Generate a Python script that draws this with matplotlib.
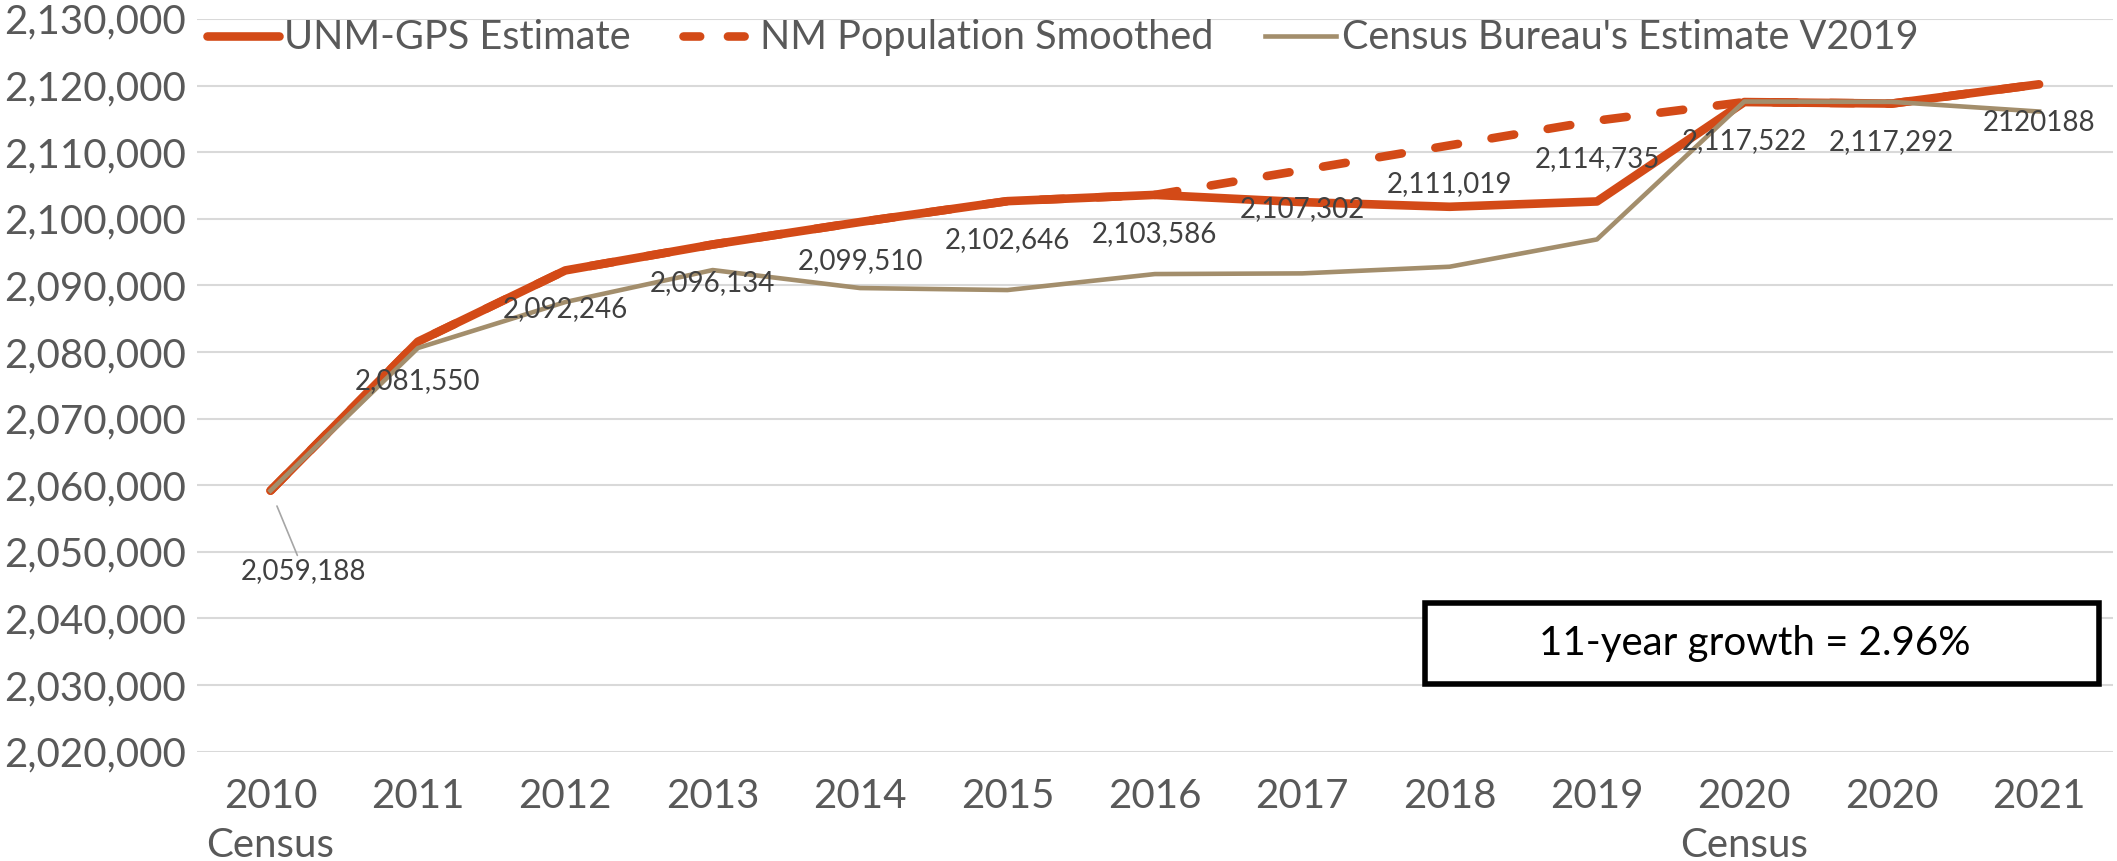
import matplotlib
matplotlib.use('Agg')
import matplotlib.pyplot as plt
from matplotlib.patches import Rectangle
from matplotlib.lines import Line2D
from matplotlib.ticker import FuncFormatter, MultipleLocator

plt.rcParams['font.family'] = ['Lato', 'DejaVu Sans']
plt.rcParams['lines.scale_dashes'] = False  # dash lengths in points

# === Data ===
years = ['2010\nCensus', '2011', '2012', '2013', '2014', '2015', '2016',
         '2017', '2018', '2019', '2020\nCensus', '2020', '2021']

unm_gps = [2059188, 2081550, 2092246, 2096134, 2099510, 2102646, 2103586,
           2102500, 2101800, 2102600, 2117522, 2117292, 2120188]

smoothed = [2059188, 2081550, 2092246, 2096134, 2099510, 2102646, 2103586,
            2107302, 2111019, 2114735, 2117522, 2117292, 2120188]

census_v2019 = [2059188, 2080600, 2087500, 2092300, 2089600, 2089300, 2091700,
                2091800, 2092800, 2096900, 2117600, 2117550, 2116100]

growth_note = '11-year growth = 2.96%'

# colours
c_unm = '#D34A17'
c_tan = '#A38E6C'
c_grid = '#D9D9D9'
c_text = '#595959'
c_label = '#404040'

fig = plt.figure(figsize=(21.17, 8.61), dpi=100)
ax = fig.add_axes([0.093, 0.127, 0.905, 0.851])

x = list(range(len(years)))

# dashed smoothed series sits under the solid one, so it only shows where they differ
ax.plot(x, smoothed, color=c_unm, lw=6.2, dashes=(16.5, 24.5), dash_capstyle='round',
        zorder=3, label='NM Population Smoothed')
ax.plot(x, unm_gps, color=c_unm, lw=6.2, solid_capstyle='round',
        solid_joinstyle='round', zorder=4, label='UNM-GPS Estimate')
ax.plot(x, census_v2019, color=c_tan, lw=3.3, solid_joinstyle='round',
        zorder=5, label="Census Bureau's Estimate V2019")

# data labels (below the points)
labels = [f'{v:,.0f}' for v in smoothed[:-1]] + [str(smoothed[-1])]
for i, (v, txt) in enumerate(zip(smoothed, labels)):
    if i == 0:
        ax.annotate(txt, xy=(i, v), xytext=(24, -58), textcoords='offset points',
                    ha='center', va='center', fontsize=20, color=c_label, zorder=7,
                    arrowprops=dict(arrowstyle='-', color='#A6A6A6', lw=1.2,
                                    shrinkA=0, shrinkB=12))
    else:
        ax.annotate(txt, xy=(i, v), xytext=(0, -28), textcoords='offset points',
                    ha='center', va='center', fontsize=20, color=c_label, zorder=7)

# axes styling
ax.set_xlim(-0.5, len(years) - 0.5)
ax.set_ylim(2020000, 2130000)
ax.yaxis.set_major_locator(MultipleLocator(10000))
ax.yaxis.set_major_formatter(FuncFormatter(lambda v, p: f'{v:,.0f}'))
ax.set_xticks(x)
ax.set_xticklabels(years, linespacing=1.4)
ax.grid(axis='y', color=c_grid, lw=1.5, zorder=0)
ax.set_axisbelow(True)
for s in ax.spines.values():
    s.set_visible(False)
ax.tick_params(axis='both', length=0, labelsize=29, labelcolor=c_text)
ax.tick_params(axis='y', pad=8)
ax.tick_params(axis='x', pad=19)

# legend
handles = [Line2D([], [], color=c_unm, lw=6.2, solid_capstyle='round'),
           Line2D([], [], color=c_unm, lw=6.2, dashes=(12, 20), dash_capstyle='round'),
           Line2D([], [], color=c_tan, lw=3.3)]
names = ['UNM-GPS Estimate', 'NM Population Smoothed', "Census Bureau's Estimate V2019"]
leg = ax.legend(handles, names, loc='center', bbox_to_anchor=(0.452, 0.974), ncol=3,
                frameon=False, fontsize=28.5, handlelength=1.8, handletextpad=0.15,
                columnspacing=1.3, labelcolor=c_text)
leg.set_zorder(8)

# growth box
ax.add_patch(Rectangle((0.641, 0.093), 0.352, 0.11, transform=ax.transAxes,
                       facecolor='white', edgecolor='black', lw=4, zorder=8))
ax.text(0.813, 0.148, growth_note, transform=ax.transAxes, ha='center', va='center',
        fontsize=29, color='black', zorder=9)

fig.savefig('out.png', dpi=100)
